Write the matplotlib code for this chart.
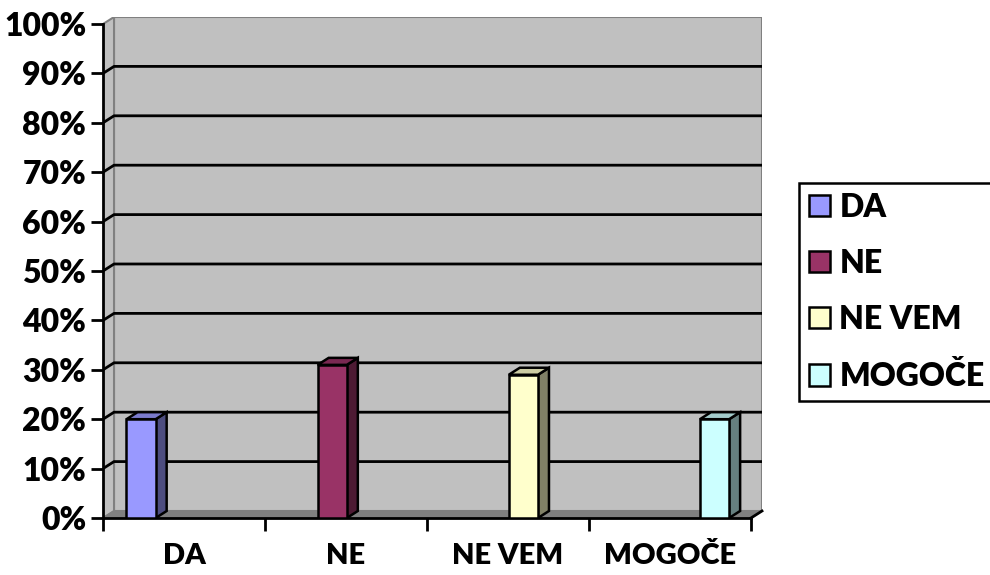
import matplotlib
matplotlib.use("Agg")
import matplotlib.pyplot as plt
from matplotlib.patches import Polygon, Rectangle

# Data
categories = ["DA", "NE", "NE VEM", "MOGOČE"]
percentages = [20, 31, 29, 20]
yticks = [0, 10, 20, 30, 40, 50, 60, 70, 80, 90, 100]

# Excel-like colours: front, side (darker), top
front_colors = ["#9999FF", "#993366", "#FFFFCC", "#CCFFFF"]
side_colors = ["#4D4D80", "#4D1A33", "#808066", "#668080"]
top_colors = ["#7A7ACC", "#7A2952", "#CCCCA3", "#A3CCCC"]

plt.rcParams['font.family'] = ['Lato', 'DejaVu Sans']
plt.rcParams['font.weight'] = 'heavy'

dx = 0.068   # depth offset in category units
dy = 1.42    # depth offset in percent
bw = 0.18    # bar width
n = len(categories)

fig = plt.figure(figsize=(9.9, 5.75), dpi=100)
ax = fig.add_axes([103 / 990, 57 / 575, 659 / 990, 501 / 575])
ax.set_xlim(0, n + dx)
ax.set_ylim(0, 100 + dy)
ax.patch.set_visible(False)

# walls and floor
ax.add_patch(Rectangle((dx, dy), n, 100, facecolor="#C0C0C0", edgecolor="#808080", lw=1.5, zorder=0))
ax.add_patch(Polygon([(0, 0), (dx, dy), (dx, 100 + dy), (0, 100)], closed=True,
                     facecolor="#C0C0C0", edgecolor="#808080", lw=1.5, zorder=0.5))
ax.add_patch(Polygon([(0, 0), (n, 0), (n + dx, dy), (dx, dy)], closed=True,
                     facecolor="#808080", edgecolor="#808080", lw=1, zorder=0.6))

# gridlines on the back wall
for t in yticks[1:-1]:
    ax.plot([0, dx, n + dx], [t, t + dy, t + dy], color="black", lw=2, zorder=1)

# bars with 3D faces
handles = []
for j, (cat, v) in enumerate(zip(categories, percentages)):
    x = j + 0.145 + bw * j
    b = ax.bar(x, v, width=bw, align="edge", color=front_colors[j],
               edgecolor="black", lw=1.8, zorder=3, label=cat)
    handles.append(b)
    ax.add_patch(Polygon([(x + bw, 0), (x + bw + dx, dy), (x + bw + dx, v + dy), (x + bw, v)],
                         closed=True, facecolor=side_colors[j], edgecolor="black", lw=1.8, zorder=2.9))
    ax.add_patch(Polygon([(x, v), (x + bw, v), (x + bw + dx, v + dy), (x + dx, v + dy)],
                         closed=True, facecolor=top_colors[j], edgecolor="black", lw=1.8, zorder=2.9))

# axes lines
for s in ["top", "right"]:
    ax.spines[s].set_visible(False)
ax.spines["left"].set_bounds(0, 100)
ax.spines["bottom"].set_bounds(0, n)
ax.spines["left"].set_linewidth(2)
ax.spines["bottom"].set_linewidth(2)
ax.plot([n, n + dx], [0, dy], color="black", lw=2, clip_on=False, zorder=4)

ax.set_yticks(yticks)
ax.set_yticklabels([f"{t}%" for t in yticks], fontsize=23, fontweight="heavy")
ax.set_xticks(range(n + 1))
ax.set_xticklabels([])
ax.set_xticks([i + 0.5 for i in range(n)], minor=True)
ax.set_xticklabels(categories, minor=True, fontsize=21, fontweight="heavy")
ax.tick_params(axis="y", length=9, width=2, pad=3)
ax.tick_params(axis="x", which="major", length=9, width=2)
ax.tick_params(axis="x", which="minor", length=0, pad=18)

fig.legend(handles=handles, labels=categories, loc="upper left",
           bbox_to_anchor=(799 / 990, 1 - 183 / 575), borderaxespad=0, fancybox=False,
           edgecolor="black", framealpha=1, prop={"weight": "heavy", "size": 23},
           handlelength=0.66, handleheight=0.66, handletextpad=0.3,
           labelspacing=0.85, borderpad=0.3)
fig.legends[0].get_frame().set_linewidth(1.8)

fig.savefig("out.png", dpi=100)
